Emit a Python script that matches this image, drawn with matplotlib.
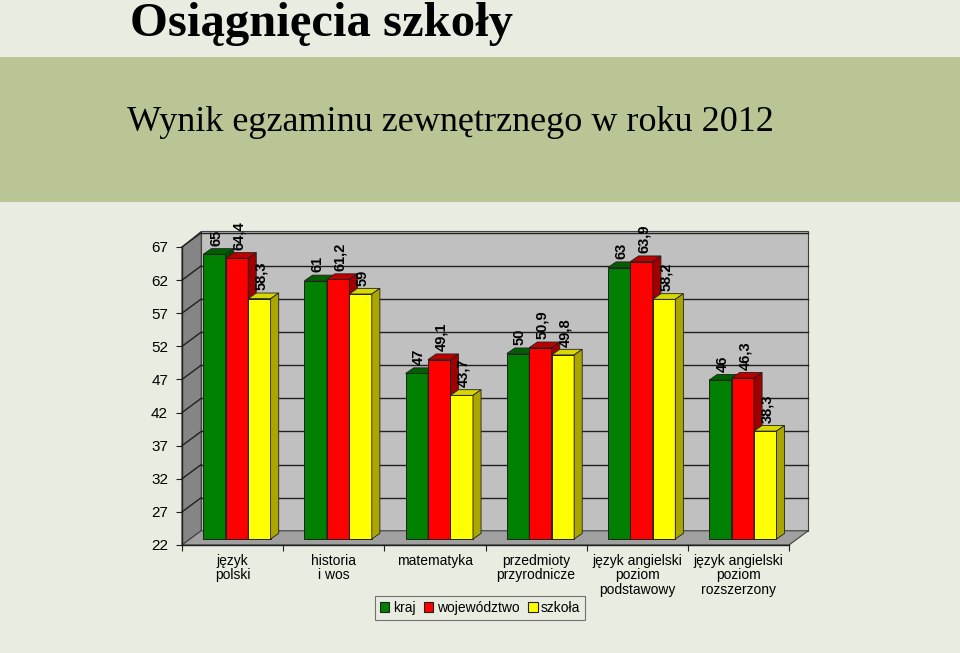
import matplotlib
matplotlib.use("Agg")
import matplotlib.pyplot as plt
from matplotlib.patches import Polygon, Rectangle, Patch
import numpy as np

# dane
kategorie = ["język\npolski", "historia\ni wos", "matematyka", "przedmioty\nprzyrodnicze",
             "język angielski\npoziom\npodstawowy", "język angielski\npoziom\nrozszerzony"]
kraj = [65, 61, 47, 50, 63, 46]
wojewodztwo = [64.4, 61.2, 49.1, 50.9, 63.9, 46.3]
szkola = [58.3, 59, 43.7, 49.8, 58.2, 38.3]
serie = ["kraj", "województwo", "szkoła"]
yticks = [22, 27, 32, 37, 42, 47, 52, 57, 62, 67]

bg = "#E9ECE0"
band = "#BAC596"
front = ["#008000", "#FF0000", "#FFFF00"]
top_c = ["#006000", "#C00000", "#D8D800"]
side_c = ["#005000", "#A00000", "#ABA500"]

W, H = 960, 653
fig = plt.figure(figsize=(W / 100, H / 100), dpi=100, facecolor=bg)
fig.patches.append(Rectangle((0, 1 - 202 / H), 1, (202 - 57) / H, transform=fig.transFigure,
                             facecolor=band, edgecolor="none", zorder=0))
fig.text(130 / W, 1 - 36 / H, "Osiągnięcia szkoły", family="Liberation Serif", weight="bold",
         fontsize=35, va="baseline", ha="left")
fig.text(127 / W, 1 - 131 / H, "Wynik egzaminu zewnętrznego w roku 2012", family="Liberation Serif",
         fontsize=26, va="baseline", ha="left")

ax = fig.add_axes([182 / W, 1 - 545 / H, (789 - 182) / W, (545 - 247) / H])
ax.set_xlim(0, 6)
ax.set_ylim(22, 67)
ax.patch.set_visible(False)
for s in ax.spines.values():
    s.set_visible(False)

DX, DY = 0.19, 2.15      # glebokosc wykresu
dx, dy = 0.08, 0.85      # glebokosc slupka
n = len(kategorie)
lo, hi = yticks[0], yticks[-1]

# sciany
ax.add_patch(Polygon([(DX, lo + DY), (n + DX, lo + DY), (n + DX, hi + DY + 0.2), (DX, hi + DY + 0.2)],
                     closed=True, facecolor="#C0C0C0", edgecolor="#404040", lw=0.8, clip_on=False, zorder=1))
ax.add_patch(Polygon([(0, lo), (0, hi), (DX, hi + DY + 0.2), (DX, lo + DY)],
                     closed=True, facecolor="#858585", edgecolor="#404040", lw=0.8, clip_on=False, zorder=1))
ax.add_patch(Polygon([(0, lo), (n, lo), (n + DX, lo + DY), (DX, lo + DY)],
                     closed=True, facecolor="#A0A0A0", edgecolor="#404040", lw=0.8, clip_on=False, zorder=1))
for t in yticks[1:]:
    ax.plot([DX, n + DX], [t + DY, t + DY], color="#202020", lw=1, clip_on=False, zorder=2)
    ax.plot([0, DX], [t, t + DY], color="#202020", lw=1, clip_on=False, zorder=2)
ax.plot([0, 0], [lo, hi], color="#202020", lw=1, clip_on=False, zorder=2)
ax.plot([0, n], [lo, lo], color="#202020", lw=1, clip_on=False, zorder=2)

ax.set_yticks(yticks)
ax.set_xticks(np.arange(n + 1))
ax.set_xticklabels([])
ax.tick_params(axis="y", length=4, width=0.8, labelsize=11, pad=6, color="#202020")
ax.tick_params(axis="x", length=4, width=0.8, color="#202020", direction="out")
for lab in ax.get_yticklabels():
    lab.set_family("Liberation Sans")

w = 0.222
x0 = 0.21
base = lo + 0.9
for k, vals in enumerate([kraj, wojewodztwo, szkola]):
    xs = np.arange(n) + x0 + k * w
    tops = np.array(vals) + 0.9
    ax.bar(xs, tops - base, width=w, bottom=base, align="edge", color=front[k],
           edgecolor="#202020", lw=0.7, zorder=5 + k, clip_on=False)
    for x, t, v in zip(xs, tops, vals):
        ax.add_patch(Polygon([(x, t), (x + w, t), (x + w + dx, t + dy), (x + dx, t + dy)], closed=True,
                             facecolor=top_c[k], edgecolor="#202020", lw=0.6, zorder=5 + k, clip_on=False))
        ax.add_patch(Polygon([(x + w, base), (x + w, t), (x + w + dx, t + dy), (x + w + dx, base + dy)],
                             closed=True, facecolor=side_c[k], edgecolor="#202020", lw=0.6,
                             zorder=5 + k, clip_on=False))
        ax.text(x + w / 2 + 0.02, t + dy + 0.4, f"{v:g}".replace(".", ","), rotation=90,
                ha="center", va="bottom", fontsize=10.5, weight="bold", family="Liberation Sans",
                zorder=20, clip_on=False)

for i, lab in enumerate(kategorie):
    ax.text(i + 0.5, lo - 1.3, lab, ha="center", va="top", fontsize=10, family="Liberation Sans",
            linespacing=1.08)

handles = [Patch(facecolor=front[k], edgecolor="#202020", lw=0.8) for k in range(3)]
leg = fig.legend(handles, serie, loc="center", bbox_to_anchor=(480 / W, 1 - 608 / H),
                 ncol=3, frameon=True, fancybox=False, edgecolor="#707070", facecolor=bg, framealpha=1,
                 handlelength=0.7, handleheight=0.7, handletextpad=0.25, columnspacing=0.6,
                 borderpad=0.35, prop={"family": "Liberation Sans", "size": 10})
leg.get_frame().set_linewidth(0.8)

fig.savefig("out.png", dpi=100, facecolor=bg)
